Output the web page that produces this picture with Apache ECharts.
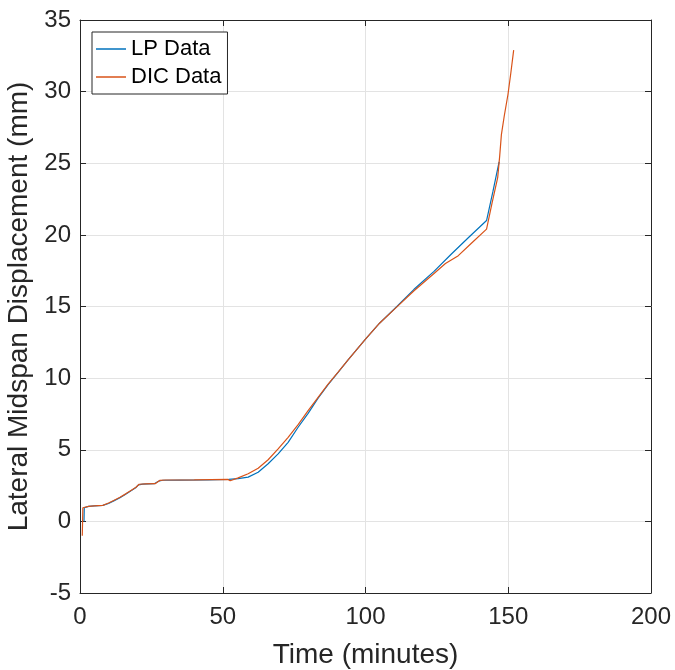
<!DOCTYPE html>
<html>
<head>
<meta charset="utf-8">
<script src="https://cdn.jsdelivr.net/npm/echarts@6/dist/echarts.min.js"></script>
<style>
html,body{margin:0;padding:0;background:#fff;}
#chart{width:675px;height:670px;}
</style>
</head>
<body>
<div id="chart"></div>
<script>
// ---- data ----
var lpTime = [1.4,1.5,3,5,8,10,12,14,16,18,19.5,20.5,22,26,27.5,29,35,45,52,52.6,55.4,58.9,62.4,65.9,69.4,72.9,76.4,79.9,83.4,86.9,90.4,93.9,100,105,110.9,117,124,130,136,142.4,144.6,146.8];
var lpDisp = [0.0,0.95,1.05,1.08,1.12,1.25,1.45,1.65,1.9,2.15,2.35,2.55,2.6,2.63,2.8,2.87,2.88,2.9,2.93,2.85,2.98,3.09,3.43,4.02,4.71,5.52,6.57,7.54,8.6,9.55,10.4,11.28,12.72,13.85,14.98,16.2,17.45,18.65,19.8,21.0,23.0,25.1];

var dicTime = [0.8,1.0,3,5,8,10,12,14,16,18,19.6,20.7,23,26.3,27.9,30,40,51.8,52.6,55.4,58.9,62.4,65.9,69.4,72.9,76.4,79.9,83.4,86.9,90.4,93.9,100,105,110.9,117,123.7,128,132.5,137,142.4,144.3,146.3,147.0,147.6,148.6,149.9,150.9,151.9];
var dicDisp = [-1.0,0.95,1.05,1.08,1.12,1.28,1.48,1.68,1.92,2.18,2.38,2.59,2.62,2.63,2.86,2.89,2.9,2.93,2.84,3.04,3.32,3.71,4.3,5.06,5.87,6.75,7.73,8.65,9.58,10.42,11.28,12.72,13.85,14.96,16.1,17.25,18.0,18.55,19.4,20.4,22.2,24.0,25.5,27.0,28.3,29.8,31.3,32.9];

var seriesNames = ['LP Data', 'DIC Data'];
var xTitle = 'Time (minutes)';
var yTitle = 'Lateral Midspan Displacement (mm)';

function pairs(xs, ys){ return xs.map(function(x,i){ return [x, ys[i]]; }); }

var axisColor = '#262626';
var font = 'Liberation Sans, Arial, Helvetica, sans-serif';

var chart = echarts.init(document.getElementById('chart'), null, {renderer:'canvas'});
chart.setOption({
  animation: false,
  backgroundColor: '#ffffff',
  grid: {left: 80, right: 24, top: 20, bottom: 77, containLabel: false, outerBoundsMode: 'none'},
  legend: {
    left: 92, top: 32, orient: 'vertical',
    data: seriesNames,
    icon: 'rect', itemWidth: 30, itemHeight: 1.5, itemGap: 6,
    padding: [6, 6, 6, 4],
    backgroundColor: '#ffffff', borderColor: axisColor, borderWidth: 1,
    textStyle: {fontFamily: font, fontSize: 22, color: '#000000', lineHeight: 22}
  },
  xAxis: [{
    type: 'value', min: 0, max: 200, interval: 50, position: 'bottom',
    name: xTitle, nameLocation: 'middle', nameGap: 48,
    nameTextStyle: {fontFamily: font, fontSize: 28, color: axisColor},
    axisLine: {show: true, onZero: false, lineStyle: {color: axisColor, width: 1}},
    axisTick: {show: true, inside: true, length: 6, lineStyle: {color: axisColor}},
    axisLabel: {fontFamily: font, fontSize: 24, color: axisColor, margin: 12},
    splitLine: {show: true, lineStyle: {color: '#e3e3e3', width: 1}}
  }, {
    type: 'value', min: 0, max: 200, interval: 50, position: 'top',
    axisLine: {show: true, onZero: false, lineStyle: {color: axisColor, width: 1}},
    axisTick: {show: true, inside: true, length: 6, lineStyle: {color: axisColor}},
    axisLabel: {show: false}, splitLine: {show: false}
  }],
  yAxis: [{
    type: 'value', min: -5, max: 35, interval: 5, position: 'left',
    name: yTitle, nameLocation: 'middle', nameGap: 37, nameRotate: 90,
    nameTextStyle: {fontFamily: font, fontSize: 28, color: axisColor},
    axisLine: {show: true, onZero: false, lineStyle: {color: axisColor, width: 1}},
    axisTick: {show: true, inside: true, length: 6, lineStyle: {color: axisColor}},
    axisLabel: {fontFamily: font, fontSize: 24, color: axisColor, margin: 9},
    splitLine: {show: true, lineStyle: {color: '#e3e3e3', width: 1}}
  }, {
    type: 'value', min: -5, max: 35, interval: 5, position: 'right',
    axisLine: {show: true, onZero: false, lineStyle: {color: axisColor, width: 1}},
    axisTick: {show: true, inside: true, length: 6, lineStyle: {color: axisColor}},
    axisLabel: {show: false}, splitLine: {show: false}
  }],
  series: [{
    name: seriesNames[0], type: 'line', xAxisIndex: 0, yAxisIndex: 0,
    data: pairs(lpTime, lpDisp), showSymbol: false, symbol: 'none',
    lineStyle: {color: '#0072BD', width: 1.2}, itemStyle: {color: '#0072BD'}
  }, {
    name: seriesNames[1], type: 'line', xAxisIndex: 0, yAxisIndex: 0,
    data: pairs(dicTime, dicDisp), showSymbol: false, symbol: 'none',
    lineStyle: {color: '#D95319', width: 1.2}, itemStyle: {color: '#D95319'}
  }]
});
</script>
</body>
</html>
